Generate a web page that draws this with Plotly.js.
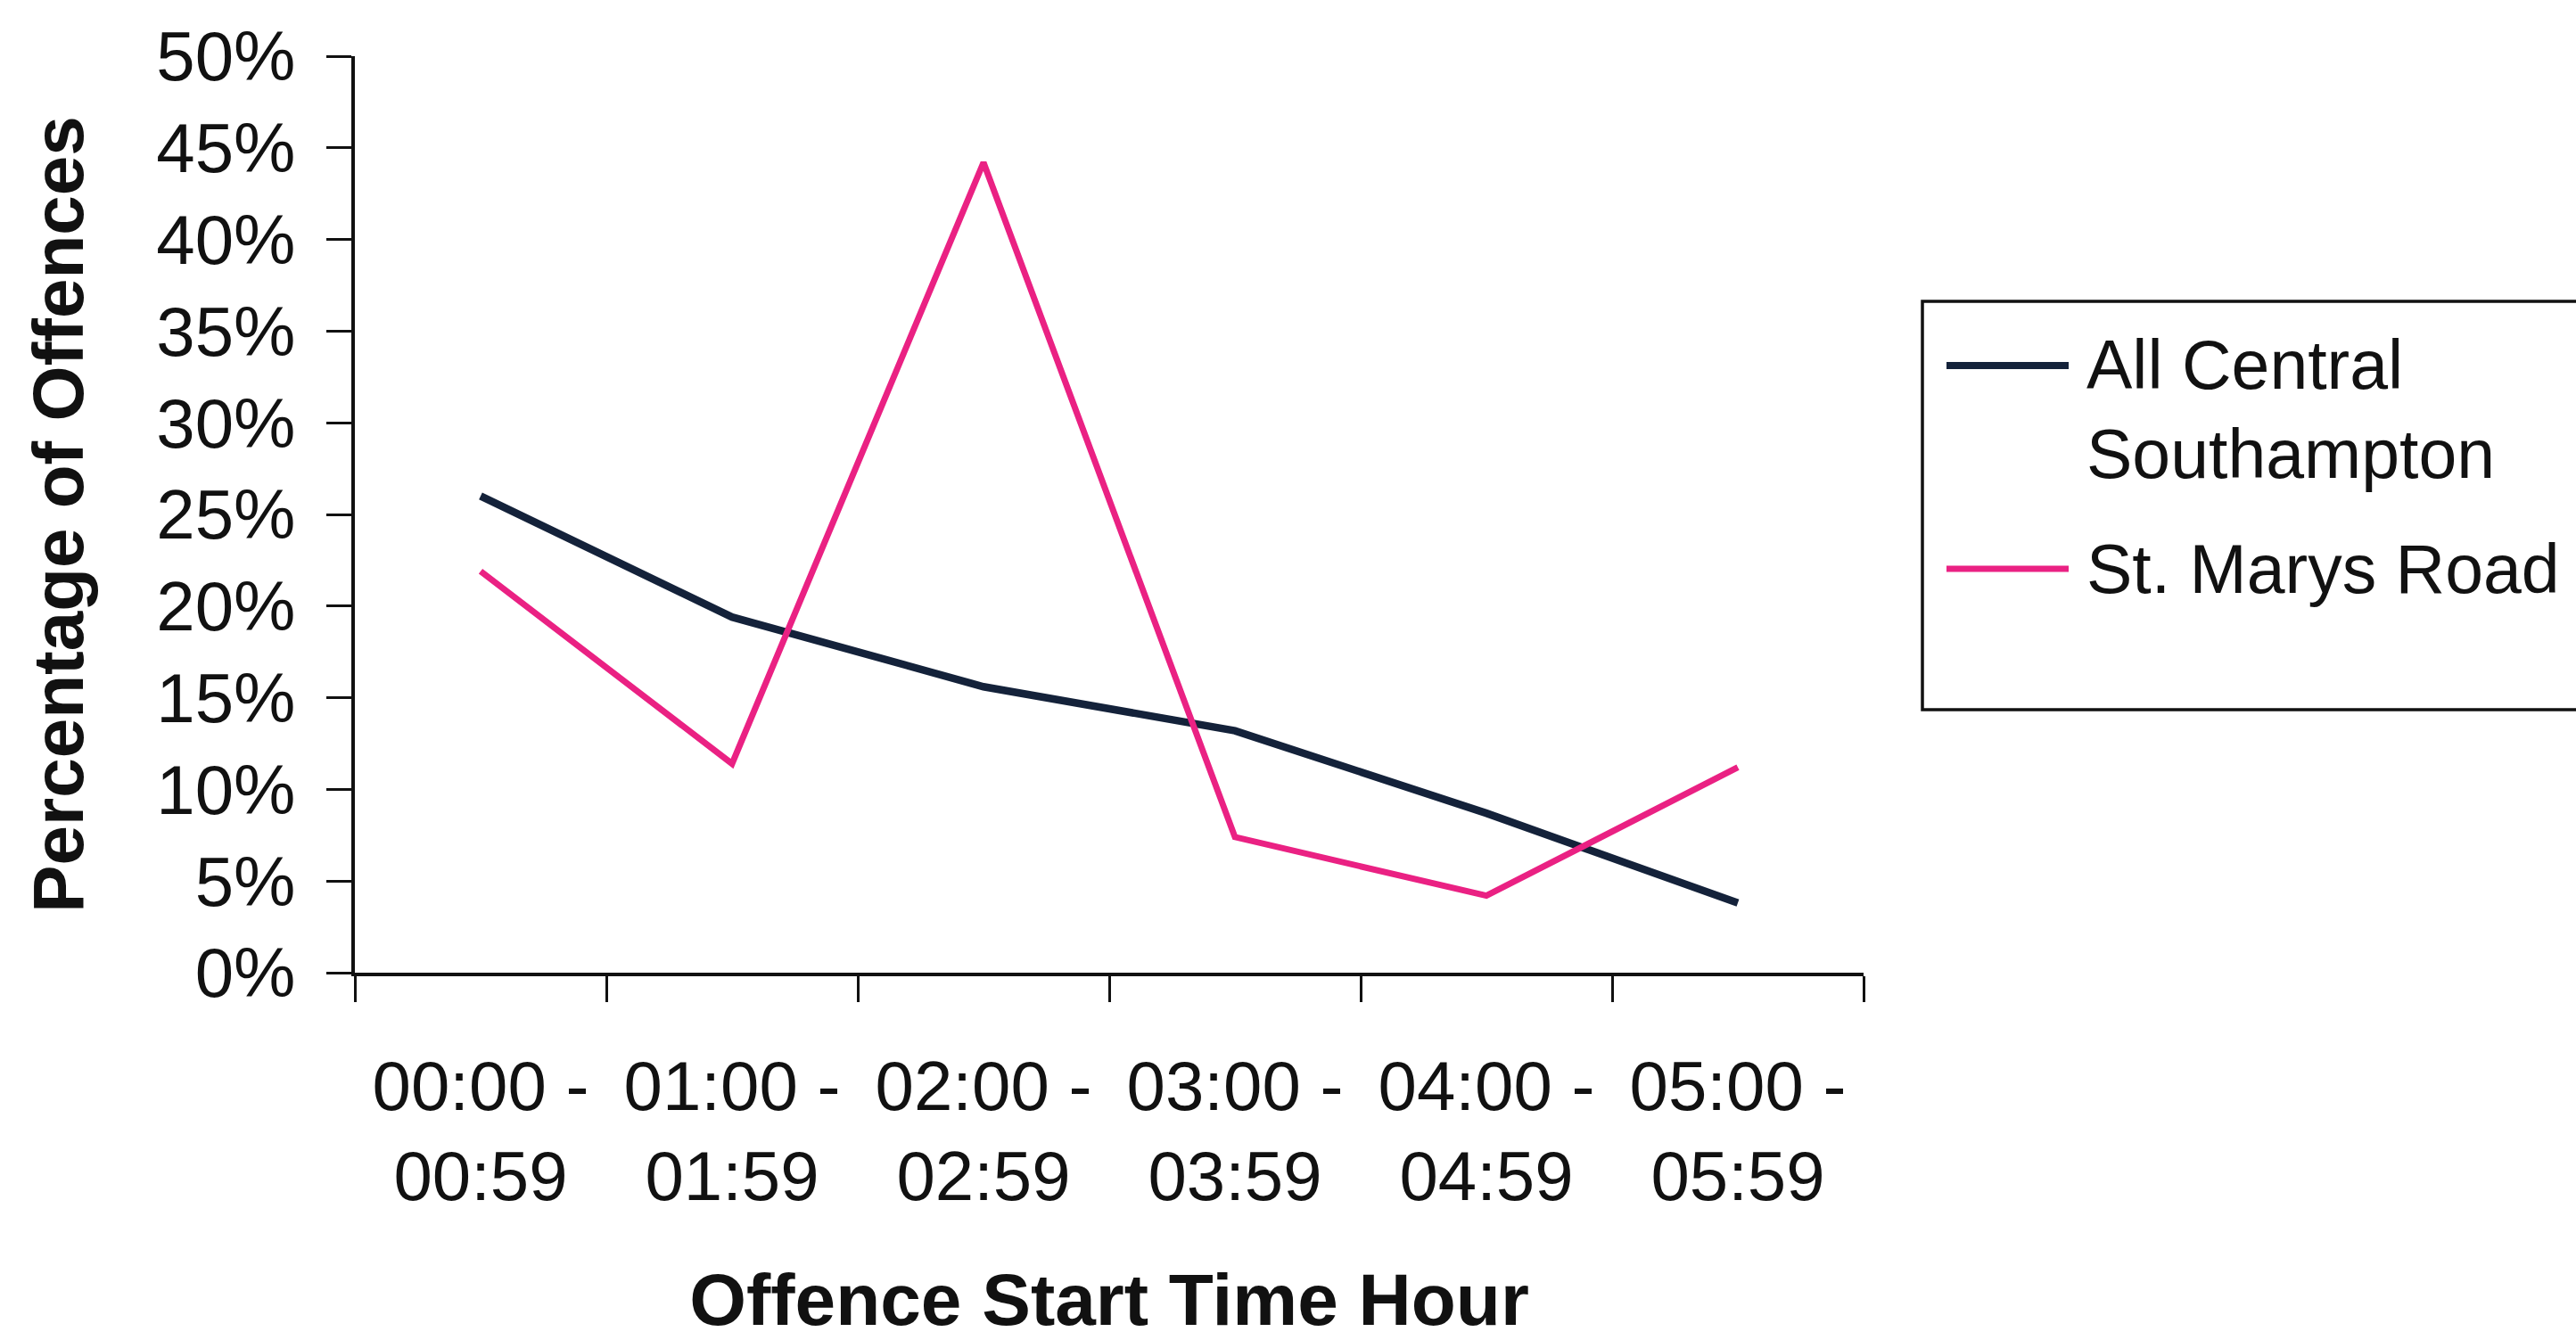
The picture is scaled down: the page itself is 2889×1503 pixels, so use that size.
<!DOCTYPE html>
<html>
<head>
<meta charset="utf-8">
<script src="https://cdn.plot.ly/plotly-3.0.1.min.js"></script>
<style>html,body{margin:0;padding:0;background:#fff;}#chart{width:2889px;height:1503px;}</style>
</head>
<body>
<div id="chart"></div>
<script>
// ---- data ----
const categories = ['00:00 - 00:59','01:00 - 01:59','02:00 - 02:59','03:00 - 03:59','04:00 - 04:59','05:00 - 05:59'];
const tickLabels = ['00:00 -<br>00:59','01:00 -<br>01:59','02:00 -<br>02:59','03:00 -<br>03:59','04:00 -<br>04:59','05:00 -<br>05:59'];
const allCentralSouthampton = [0.260, 0.194, 0.156, 0.132, 0.087, 0.038];
const stMarysRoad = [0.219, 0.114, 0.442, 0.074, 0.042, 0.112];
const seriesNames = ['All Central Southampton', 'St. Marys Road'];
const legendLabels = ['All Central<br>Southampton', 'St. Marys Road'];
const xTitle = 'Offence Start Time Hour';
const yTitle = 'Percentage of Offences';

// ---- style ----
const colors = ['#14223a', '#ea2183'];
const widths = [8.5, 7];
const FONT = 'Liberation Sans, Arial, sans-serif';
const W = 2889, H = 1503;
const L = 398, R = 2090, T = 63, B = 1091;
const px = x => (x - L) / (R - L);
const py = y => (B - y) / (B - T);

const traces = [allCentralSouthampton, stMarysRoad].map((vals, i) => ({
  type: 'scatter', mode: 'lines', name: seriesNames[i],
  x: categories, y: vals,
  line: {color: colors[i], width: widths[i]},
  showlegend: false, hoverinfo: 'x+y'
}));

const shapes = [
  {type: 'rect', xref: 'paper', yref: 'paper', x0: px(2156), x1: px(2980), y0: py(796), y1: py(338),
   line: {color: '#111', width: 3.5}, fillcolor: '#fff', layer: 'below'},
  {type: 'line', xref: 'paper', yref: 'paper', x0: px(2183), x1: px(2320), y0: py(410), y1: py(410),
   line: {color: colors[0], width: 8}},
  {type: 'line', xref: 'paper', yref: 'paper', x0: px(2183), x1: px(2320), y0: py(638), y1: py(638),
   line: {color: colors[1], width: 7}}
];

const annotations = [
  {xref: 'paper', yref: 'paper', x: px(2338), y: py(459), xanchor: 'left', yanchor: 'middle',
   text: legendLabels[0], showarrow: false, align: 'left', font: {family: FONT, size: 77, color: '#111'}},
  {xref: 'paper', yref: 'paper', x: px(2338), y: py(638), xanchor: 'left', yanchor: 'middle',
   text: legendLabels[1], showarrow: false, align: 'left', font: {family: FONT, size: 77, color: '#111'}}
];

const layout = {
  width: W, height: H,
  margin: {l: L, r: W - R, t: T, b: H - B, autoexpand: false},
  paper_bgcolor: '#fff', plot_bgcolor: '#fff',
  showlegend: false,
  font: {family: FONT, color: '#111'},
  xaxis: {
    type: 'category', range: [-0.5, 5.5],
    tickmode: 'array', tickvals: categories, ticktext: tickLabels,
    tickson: 'boundaries', ticks: 'outside', ticklen: 29, tickwidth: 3, tickcolor: '#111',
    showline: true, linecolor: '#111', linewidth: 4,
    showgrid: false, zeroline: false,
    tickfont: {family: FONT, size: 78, color: '#111'},
    ticklabelstandoff: 56,
    title: {text: xTitle, font: {family: FONT, size: 82, weight: 700, color: '#111'}, standoff: 80}
  },
  yaxis: {
    range: [0, 0.5], tick0: 0, dtick: 0.05, tickformat: '.0%',
    ticks: 'outside', ticklen: 28, tickwidth: 3, tickcolor: '#111',
    showline: true, linecolor: '#111', linewidth: 4,
    showgrid: false, zeroline: false,
    tickfont: {family: FONT, size: 78, color: '#111'},
    ticklabelstandoff: 19,
    title: {text: yTitle, font: {family: FONT, size: 80, weight: 700, color: '#111'}, standoff: 56}
  },
  shapes: shapes,
  annotations: annotations
};

Plotly.newPlot('chart', traces, layout, {displayModeBar: false, staticPlot: true});
</script>
</body>
</html>
